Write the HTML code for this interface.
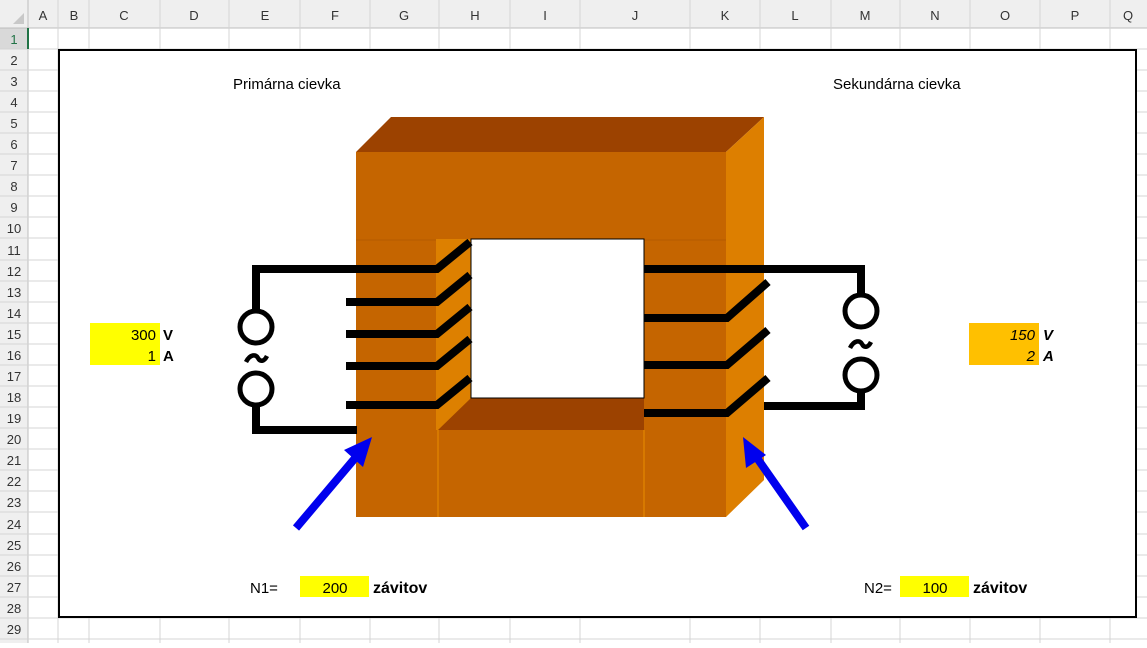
<!DOCTYPE html>
<html><head><meta charset="utf-8"><style>
body{margin:0;width:1147px;height:643px;overflow:hidden;background:#fff;font-family:"Liberation Sans",sans-serif}
</style></head><body>
<svg width="1147" height="643" xmlns="http://www.w3.org/2000/svg" font-family="Liberation Sans, sans-serif">
<rect width="1147" height="643" fill="#fff"/>
<rect x="0" y="0" width="1147" height="28" fill="#efefef"/>
<rect x="0" y="0" width="28" height="643" fill="#efefef"/>
<rect x="0" y="28" width="28" height="21" fill="#d9d9d9"/>
<line x1="0" y1="28" x2="1147" y2="28" stroke="#bcbcbc"/>
<line x1="28" y1="0" x2="28" y2="643" stroke="#bcbcbc"/>
<polygon points="13,24 24,24 24,13" fill="#c8c8c8"/>
<g stroke="#d4d4d4" stroke-width="1">
<line x1="58" y1="0" x2="58" y2="643"/><line x1="89" y1="0" x2="89" y2="643"/><line x1="160" y1="0" x2="160" y2="643"/><line x1="229" y1="0" x2="229" y2="643"/><line x1="300" y1="0" x2="300" y2="643"/><line x1="370" y1="0" x2="370" y2="643"/><line x1="439" y1="0" x2="439" y2="643"/><line x1="510" y1="0" x2="510" y2="643"/><line x1="580" y1="0" x2="580" y2="643"/><line x1="690" y1="0" x2="690" y2="643"/><line x1="760" y1="0" x2="760" y2="643"/><line x1="831" y1="0" x2="831" y2="643"/><line x1="900" y1="0" x2="900" y2="643"/><line x1="970" y1="0" x2="970" y2="643"/><line x1="1040" y1="0" x2="1040" y2="643"/><line x1="1110" y1="0" x2="1110" y2="643"/>
</g>
<g stroke="#d4d4d4">
<line x1="0" y1="49" x2="1147" y2="49"/><line x1="0" y1="70" x2="1147" y2="70"/><line x1="0" y1="91" x2="1147" y2="91"/><line x1="0" y1="112" x2="1147" y2="112"/><line x1="0" y1="133" x2="1147" y2="133"/><line x1="0" y1="154" x2="1147" y2="154"/><line x1="0" y1="175" x2="1147" y2="175"/><line x1="0" y1="196" x2="1147" y2="196"/><line x1="0" y1="217" x2="1147" y2="217"/><line x1="0" y1="238" x2="1147" y2="238"/><line x1="0" y1="260" x2="1147" y2="260"/><line x1="0" y1="281" x2="1147" y2="281"/><line x1="0" y1="302" x2="1147" y2="302"/><line x1="0" y1="323" x2="1147" y2="323"/><line x1="0" y1="344" x2="1147" y2="344"/><line x1="0" y1="365" x2="1147" y2="365"/><line x1="0" y1="386" x2="1147" y2="386"/><line x1="0" y1="407" x2="1147" y2="407"/><line x1="0" y1="428" x2="1147" y2="428"/><line x1="0" y1="449" x2="1147" y2="449"/><line x1="0" y1="470" x2="1147" y2="470"/><line x1="0" y1="491" x2="1147" y2="491"/><line x1="0" y1="512" x2="1147" y2="512"/><line x1="0" y1="534" x2="1147" y2="534"/><line x1="0" y1="555" x2="1147" y2="555"/><line x1="0" y1="576" x2="1147" y2="576"/><line x1="0" y1="597" x2="1147" y2="597"/><line x1="0" y1="618" x2="1147" y2="618"/><line x1="0" y1="639" x2="1147" y2="639"/>
</g>
<line x1="28" y1="28" x2="28" y2="49" stroke="#217346" stroke-width="2"/>
<g font-size="13" fill="#333" text-anchor="middle">
<text x="43" y="20">A</text><text x="74" y="20">B</text><text x="124" y="20">C</text><text x="194" y="20">D</text><text x="265" y="20">E</text><text x="335" y="20">F</text><text x="404" y="20">G</text><text x="475" y="20">H</text><text x="545" y="20">I</text><text x="635" y="20">J</text><text x="725" y="20">K</text><text x="795" y="20">L</text><text x="865" y="20">M</text><text x="935" y="20">N</text><text x="1005" y="20">O</text><text x="1075" y="20">P</text><text x="1128" y="20">Q</text>
<text x="14" y="44" fill="#217346">1</text><text x="14" y="65">2</text><text x="14" y="86">3</text><text x="14" y="107">4</text><text x="14" y="128">5</text><text x="14" y="149">6</text><text x="14" y="170">7</text><text x="14" y="191">8</text><text x="14" y="212">9</text><text x="14" y="233">10</text><text x="14" y="255">11</text><text x="14" y="276">12</text><text x="14" y="297">13</text><text x="14" y="318">14</text><text x="14" y="339">15</text><text x="14" y="360">16</text><text x="14" y="381">17</text><text x="14" y="402">18</text><text x="14" y="423">19</text><text x="14" y="444">20</text><text x="14" y="465">21</text><text x="14" y="486">22</text><text x="14" y="507">23</text><text x="14" y="529">24</text><text x="14" y="550">25</text><text x="14" y="571">26</text><text x="14" y="592">27</text><text x="14" y="613">28</text><text x="14" y="634">29</text>
</g>
<rect x="59" y="50" width="1077" height="567" fill="#fff" stroke="#000" stroke-width="2"/>
<text x="233" y="89" font-size="15">Primárna cievka</text>
<text x="833" y="89" font-size="15">Sekundárna cievka</text>
<polygon points="356,152 391,117 764,117 726,152" fill="#9c4200"/>
<polygon points="726,152 764,117 764,480 726,517" fill="#dd7f00"/>
<rect x="356" y="152" width="370" height="365" fill="#c56500"/>
<line x1="356" y1="240" x2="726" y2="240" stroke="#b55a00" stroke-width="1"/>
<rect x="436" y="239" width="35" height="191" fill="#dd8000"/>
<polygon points="438,430 471,398 644,398 644,430" fill="#9c4200"/>
<line x1="438" y1="430" x2="438" y2="517" stroke="#dd8000" stroke-width="1.5"/>
<line x1="644" y1="430" x2="644" y2="517" stroke="#dd8000" stroke-width="1.5"/>
<rect x="471" y="239" width="173" height="159" fill="#fff" stroke="#000" stroke-width="1"/>
<g stroke="#000" stroke-width="8" fill="none">
<polyline points="256,313 256,269 437,269 470,242"/>
<polyline points="346,302 437,302 470,275"/>
<polyline points="346,334 437,334 470,307"/>
<polyline points="346,366 437,366 470,339"/>
<polyline points="346,405 437,405 470,378"/>
<polyline points="256,405 256,430 357,430"/>
<polyline points="861,297 861,269 644,269"/>
<polyline points="644,318 727,318 768,282"/>
<polyline points="644,365 727,365 768,330"/>
<polyline points="644,413 727,413 768,378"/>
<polyline points="861,389 861,406 764,406"/>
</g>
<g stroke="#000" stroke-width="5" fill="#fff">
<circle cx="256" cy="327" r="16"/><circle cx="256" cy="389" r="16"/>
<circle cx="861" cy="311" r="16"/><circle cx="861" cy="375" r="16"/>
</g>
<path d="M246,362 C250,354 256,354 258,358 C260,362 264,362 267,356" stroke="#000" stroke-width="4.5" fill="none"/>
<path d="M850,348 C854,340 860,340 862,344 C864,348 868,348 871,342" stroke="#000" stroke-width="4.5" fill="none"/>
<line x1="296" y1="528" x2="356" y2="457" stroke="#0000ee" stroke-width="8"/>
<polygon points="372,437 344,450 363,467" fill="#0000ee"/>
<line x1="806" y1="528" x2="757" y2="458" stroke="#0000ee" stroke-width="8"/>
<polygon points="743,437 746,468 766,455" fill="#0000ee"/>
<rect x="90" y="323" width="70" height="42" fill="#ffff00"/>
<text x="156" y="340" font-size="15" text-anchor="end">300</text>
<text x="156" y="361" font-size="15" text-anchor="end">1</text>
<text x="163" y="340" font-size="15" font-weight="bold">V</text>
<text x="163" y="361" font-size="15" font-weight="bold">A</text>
<rect x="969" y="323" width="70" height="42" fill="#ffc000"/>
<text x="1035" y="340" font-size="15" font-style="italic" text-anchor="end">150</text>
<text x="1035" y="361" font-size="15" font-style="italic" text-anchor="end">2</text>
<text x="1043" y="340" font-size="15" font-weight="bold" font-style="italic">V</text>
<text x="1043" y="361" font-size="15" font-weight="bold" font-style="italic">A</text>
<text x="250" y="593" font-size="15">N1=</text>
<rect x="300" y="576" width="69" height="21" fill="#ffff00"/>
<text x="335" y="593" font-size="15" text-anchor="middle">200</text>
<text x="373" y="593" font-size="16" font-weight="bold">závitov</text>
<text x="864" y="593" font-size="15">N2=</text>
<rect x="900" y="576" width="69" height="21" fill="#ffff00"/>
<text x="935" y="593" font-size="15" text-anchor="middle">100</text>
<text x="973" y="593" font-size="16" font-weight="bold">závitov</text>
</svg>
</body></html>
